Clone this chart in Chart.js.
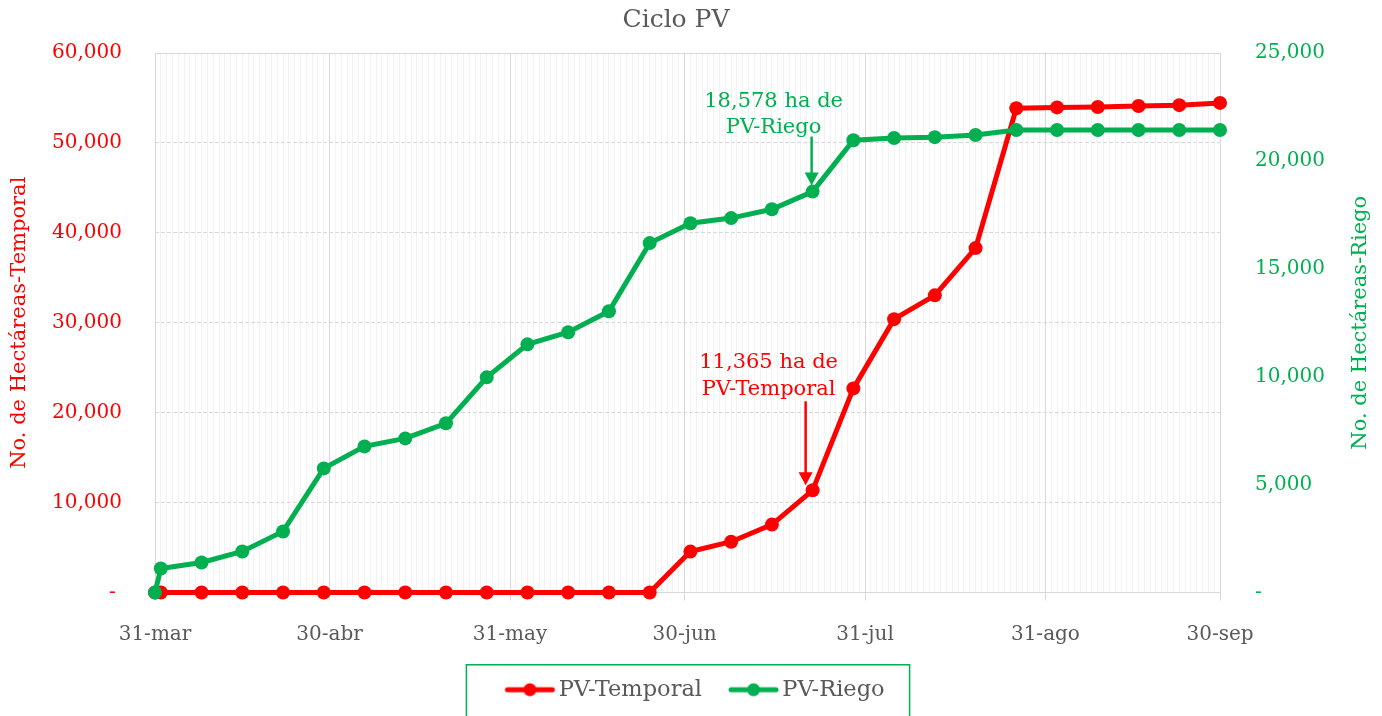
<!DOCTYPE html>
<html>
<head>
<meta charset="utf-8">
<script src="https://cdn.jsdelivr.net/npm/chart.js@4.4.0/dist/chart.umd.min.js"></script>
<style>
  html, body { margin: 0; padding: 0; background: #fff; }
  #wrap { width: 1382px; height: 716px; }
</style>
</head>
<body>
<div id="wrap"><canvas id="myChart"></canvas></div>
<script>
// fechas de corte (semanales) y superficie acumulada
const fechas = ['31-mar', '1-abr', '8-abr', '15-abr', '22-abr', '29-abr', '6-may', '13-may', '20-may', '27-may',
  '3-jun', '10-jun', '17-jun', '24-jun', '1-jul', '8-jul', '15-jul', '22-jul', '29-jul',
  '5-ago', '12-ago', '19-ago', '26-ago', '2-sep', '9-sep', '16-sep', '23-sep', '30-sep']
const temporal = [0, 0, 0, 0, 0, 0, 0, 0, 0, 0,
  0, 0, 0, 0, 4550, 5650, 7550, 11365, 22700,
  30400, 33050, 38300, 53850, 53950, 54000, 54100, 54200, 54450]
const riego = [0, 1110, 1390, 1900, 2830, 5750, 6770, 7140, 7840, 9970,
  11500, 12060, 13030, 16190, 17110, 17350, 17760, 18578, 20960,
  21060, 21100, 21200, 21430, 21430, 21430, 21430, 21430, 21430]

const etiquetasX = ['31-mar', '30-abr', '31-may', '30-jun', '31-jul', '31-ago', '30-sep']
const ticksTemporal = [0, 10000, 20000, 30000, 40000, 50000, 60000]
const ticksRiego = [0, 5000, 10000, 15000, 20000, 25000]

const notaRiego = { fecha: '22-jul', texto: ['18,578 ha de', 'PV-Riego'] }
const notaTemporal = { fecha: '22-jul', texto: ['11,365 ha de', 'PV-Temporal'] }

const ROJO = '#ff0000'
const VERDE = '#00b050'
const GRIS = '#595959'
const FUENTE = "'DejaVu Serif', serif"

// dias contados desde el 31-mar
const inicioMes = { mar: -31, abr: 0, may: 30, jun: 61, jul: 91, ago: 122, sep: 153 }
function dia(f) {
  const [d, m] = f.split('-')
  return inicioMes[m] + Number(d)
}
const diaFinal = dia('30-sep')
const etiquetaDia = {}
etiquetasX.forEach(e => { etiquetaDia[dia(e)] = e })

function fmt(v) {
  return v === 0 ? '- ' : v.toLocaleString('en-US')
}

// icono de la leyenda: linea con punto, desplazado a la derecha dentro del lienzo
function iconoLeyenda(color) {
  const c = document.createElement('canvas')
  c.width = 66; c.height = 16
  const g = c.getContext('2d')
  g.strokeStyle = color; g.lineWidth = 5; g.lineCap = 'round'
  g.beginPath(); g.moveTo(18, 8); g.lineTo(63, 8); g.stroke()
  g.fillStyle = color
  g.beginPath(); g.arc(40.5, 8, 6.5, 0, Math.PI * 2); g.fill()
  return c
}

function flecha(ctx, x, y1, y2, color) {
  ctx.save()
  ctx.strokeStyle = color; ctx.fillStyle = color; ctx.lineWidth = 2.5
  ctx.beginPath(); ctx.moveTo(x, y1); ctx.lineTo(x, y2 - 10); ctx.stroke()
  ctx.beginPath(); ctx.moveTo(x - 7, y2 - 13); ctx.lineTo(x + 7, y2 - 13); ctx.lineTo(x, y2); ctx.closePath(); ctx.fill()
  ctx.restore()
}

const extras = {
  id: 'extras',
  beforeDatasetsDraw(chart) {
    const { ctx, chartArea: a } = chart
    ctx.save()
    ctx.strokeStyle = '#d9d9d9'; ctx.lineWidth = 1
    ctx.beginPath(); ctx.moveTo(a.left, a.top + 0.5); ctx.lineTo(a.right, a.top + 0.5); ctx.stroke()
    ctx.restore()
  },
  afterDatasetsDraw(chart) {
    const { ctx, scales } = chart
    ctx.save()
    ctx.font = '21px ' + FUENTE
    ctx.textAlign = 'center'; ctx.textBaseline = 'middle'

    // nota riego
    let i = fechas.indexOf(notaRiego.fecha)
    let px = scales.x.getPixelForValue(dia(notaRiego.fecha))
    let py = scales.yR.getPixelForValue(riego[i])
    ctx.fillStyle = VERDE
    ctx.fillText(notaRiego.texto[0], px - 39, py - 90)
    ctx.fillText(notaRiego.texto[1], px - 39, py - 64)
    flecha(ctx, px - 1, py - 55, py - 6, VERDE)

    // nota temporal
    i = fechas.indexOf(notaTemporal.fecha)
    px = scales.x.getPixelForValue(dia(notaTemporal.fecha))
    py = scales.y.getPixelForValue(temporal[i])
    ctx.fillStyle = ROJO
    ctx.fillText(notaTemporal.texto[0], px - 44, py - 128)
    ctx.fillText(notaTemporal.texto[1], px - 44, py - 101)
    flecha(ctx, px - 7, py - 89, py - 5, ROJO)
    ctx.restore()
  },
  afterDraw(chart) {
    const { ctx, chartArea: a, legend } = chart
    ctx.save()
    // titulo del grafico
    ctx.font = '25px ' + FUENTE
    ctx.fillStyle = GRIS
    ctx.textAlign = 'center'; ctx.textBaseline = 'middle'
    ctx.fillText('Ciclo PV', 676, 20)
    // titulo del eje derecho
    ctx.font = '21px ' + FUENTE
    ctx.fillStyle = VERDE
    ctx.translate(a.right + 141, (a.top + a.bottom) / 2)
    ctx.rotate(-Math.PI / 2)
    ctx.fillText('No. de Hectáreas-Riego', 0, 0)
    ctx.restore()

    // marco de la leyenda
    const hb = legend.legendHitBoxes
    if (hb && hb.length) {
      const l = hb[0].left - 31
      const r = hb[hb.length - 1].left + hb[hb.length - 1].width + 25
      const cy = hb[0].top + hb[0].height / 2
      ctx.save()
      ctx.strokeStyle = VERDE; ctx.lineWidth = 1.5
      ctx.strokeRect(l, cy - 25, r - l, 60)
      ctx.restore()
    }
  }
}

const config = {
  type: 'line',
  data: {
    datasets: [{
      label: 'PV-Temporal',
      data: fechas.map((f, k) => ({ x: dia(f), y: temporal[k] })),
      yAxisID: 'y',
      borderColor: ROJO,
      backgroundColor: ROJO,
      borderWidth: 5,
      pointRadius: 7,
      pointHoverRadius: 7,
      pointBorderWidth: 0,
      order: 1,
      clip: false
    }, {
      label: 'PV-Riego',
      data: fechas.map((f, k) => ({ x: dia(f), y: riego[k] })),
      yAxisID: 'yR',
      borderColor: VERDE,
      backgroundColor: VERDE,
      borderWidth: 5,
      pointRadius: 7,
      pointHoverRadius: 7,
      pointBorderWidth: 0,
      order: 0,
      clip: false
    }]
  },
  options: {
    responsive: true,
    maintainAspectRatio: false,
    animation: false,
    layout: { padding: { left: 0, right: 0, top: 53, bottom: 5 } },
    plugins: {
      title: { display: false },
      legend: {
        position: 'bottom',
        labels: {
          color: GRIS,
          font: { family: FUENTE, size: 22.5 },
          usePointStyle: true,
          pointStyleWidth: 50,
          padding: 19,
          sort: (a, b) => a.datasetIndex - b.datasetIndex,
          generateLabels: chart => Chart.defaults.plugins.legend.labels.generateLabels(chart).map(it => {
            it.pointStyle = iconoLeyenda(it.datasetIndex === 0 ? ROJO : VERDE)
            return it
          })
        }
      },
      tooltip: { enabled: false }
    },
    scales: {
      x: {
        type: 'linear',
        min: 0,
        max: diaFinal,
        afterBuildTicks: s => {
          const t = []
          for (let d = 0; d <= diaFinal; d++) t.push({ value: d })
          s.ticks = t
        },
        afterFit: s => { s.height = 67 },
        ticks: {
          autoSkip: false,
          maxRotation: 0,
          padding: 22,
          color: GRIS,
          font: { family: FUENTE, size: 20 },
          callback: v => etiquetaDia[v] || ''
        },
        grid: {
          color: c => (c.tick && etiquetaDia[c.tick.value]) ? '#d9d9d9' : '#f2f2f2',
          tickColor: c => (c.tick && etiquetaDia[c.tick.value]) ? '#d9d9d9' : 'rgba(0,0,0,0)',
          tickLength: 8,
          lineWidth: 1
        },
        border: { color: '#d9d9d9' }
      },
      y: {
        position: 'left',
        min: 0,
        max: 60000,
        afterBuildTicks: s => { s.ticks = ticksTemporal.map(v => ({ value: v })) },
        afterFit: s => { s.width = 155 },
        title: {
          display: true,
          text: 'No. de Hectáreas-Temporal',
          color: ROJO,
          font: { family: FUENTE, size: 21 },
          padding: { top: 7, bottom: 0 }
        },
        ticks: {
          padding: 33,
          color: ROJO,
          font: { family: FUENTE, size: 20 },
          callback: v => fmt(v)
        },
        grid: { color: '#d9d9d9', drawTicks: false },
        border: { display: false, dash: [4, 2] }
      },
      yR: {
        position: 'right',
        min: 0,
        max: 25000,
        afterBuildTicks: s => { s.ticks = ticksRiego.map(v => ({ value: v })) },
        afterFit: s => { s.width = 162 },
        ticks: {
          padding: 35,
          color: VERDE,
          font: { family: FUENTE, size: 20 },
          callback: v => v === 0 ? '-' : v.toLocaleString('en-US')
        },
        grid: { display: false, drawTicks: false },
        border: { display: false }
      }
    }
  },
  plugins: [extras]
}

const myChart = new Chart(document.getElementById('myChart'), config)
</script>
</body>
</html>
